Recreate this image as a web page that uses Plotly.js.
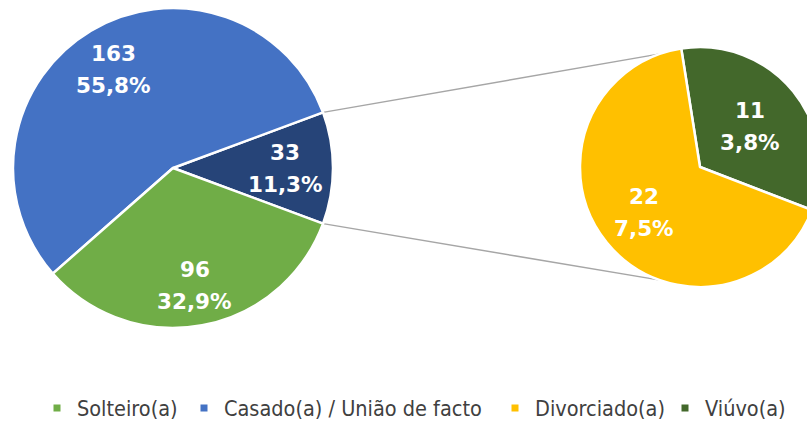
<!DOCTYPE html>
<html>
<head>
<meta charset="utf-8">
<script src="https://cdn.plot.ly/plotly-3.0.1.min.js"></script>
<style>
  html, body { margin: 0; padding: 0; overflow: hidden; background: #ffffff; }
  #chart { width: 840px; height: 422px; }
</style>
</head>
<body>
<div id="chart"></div>
<script>
// ---- data ----
const mainLabels = ['Solteiro(a)', 'Casado(a) / União de facto'];
const mainValues = [96, 163];
const secLabels = ['Viúvo(a)', 'Divorciado(a)'];
const secValues = [11, 22];
const otherLabel = 'Outros';
const legendLabels = ['Solteiro(a)', 'Casado(a) / União de facto', 'Divorciado(a)', 'Viúvo(a)'];

// ---- styles ----
const colors = {
  'Solteiro(a)': '#70AD47',
  'Casado(a) / União de facto': '#4472C4',
  'Outros': '#264478',
  'Divorciado(a)': '#FFC000',
  'Viúvo(a)': '#43682B'
};
const legendTextStart = [77, 224, 535, 705];   // px, left edge of legend texts
const W = 840, H = 422;
const mainC = {x: 173, y: 168, r: 160};
const secC = {x: 700, y: 167, r: 120};
const mainLabelR = [0.70, 0.72, 0.75];   // Outros, Casado, Solteiro
const secLabelR = [0.54, 0.60];          // Viúvo, Divorciado
const secRotation = -9;
const labelFont = {family: 'DejaVu Sans', size: 21.5, color: '#ffffff', weight: 'bold'};

const otherValue = secValues.reduce((a, b) => a + b, 0);
const total = mainValues.reduce((a, b) => a + b, 0) + otherValue;
const pct = v => (v / total * 100).toFixed(1).replace('.', ',') + '%';

// main pie: Outros first (centred at 3 o'clock), the rest counterclockwise
const pieMainLabels = [otherLabel, mainLabels[1], mainLabels[0]];
const pieMainValues = [otherValue, mainValues[1], mainValues[0]];
const halfOther = 360 * otherValue / total / 2;
const mainRotation = 90 - halfOther;

function domainOf(c) {
  return {
    x: [(c.x - c.r) / W, (c.x + c.r) / W],
    y: [1 - (c.y + c.r) / H, 1 - (c.y - c.r) / H]
  };
}

const traces = [
  {
    type: 'pie',
    labels: pieMainLabels,
    values: pieMainValues,
    textinfo: 'none',
    sort: false,
    direction: 'counterclockwise',
    rotation: mainRotation,
    marker: {colors: pieMainLabels.map(l => colors[l]), line: {color: '#ffffff', width: 2.5}},
    domain: domainOf(mainC),
    showlegend: false,
    hoverinfo: 'skip'
  },
  {
    type: 'pie',
    labels: secLabels,
    values: secValues,
    textinfo: 'none',
    sort: false,
    direction: 'clockwise',
    rotation: secRotation,
    marker: {colors: secLabels.map(l => colors[l]), line: {color: '#ffffff', width: 2.5}},
    domain: domainOf(secC),
    showlegend: false,
    hoverinfo: 'skip'
  }
];

// legend entries (one legend per entry so each sits where the reference has it)
const legendFont = {family: 'DejaVu Sans Condensed, Liberation Sans, sans-serif', size: 21.5, color: '#404040'};
const layoutLegends = {};
legendLabels.forEach((l, i) => {
  const key = i === 0 ? 'legend' : 'legend' + (i + 1);
  traces.push({
    type: 'scatter', mode: 'markers', x: [null], y: [null],
    name: l, legend: key,
    marker: {symbol: 'square', size: 7, color: colors[l]},
    showlegend: true, hoverinfo: 'skip'
  });
  layoutLegends[key] = {
    orientation: 'h', x: (legendTextStart[i] - 40) / W, xanchor: 'left',
    y: 1 - 408 / H, yanchor: 'middle',
    font: legendFont, bgcolor: 'rgba(0,0,0,0)', borderwidth: 0
  };
});

// data labels at slice mid-angles (angles clockwise from 12 o'clock)
const annotations = [];
function addLabel(v, midDeg, c, rf) {
  const t = midDeg * Math.PI / 180;
  const px = c.x + rf * c.r * Math.sin(t);
  const py = c.y - rf * c.r * Math.cos(t);
  [[String(v), 16], [pct(v), -16]].forEach(([txt, sh]) => {
    annotations.push({xref: 'paper', yref: 'paper', x: px / W, y: 1 - py / H,
      xanchor: 'center', yanchor: 'middle',
      text: txt, showarrow: false, font: labelFont, yshift: sh});
  });
}
function labelPie(values, rotation, dir, c, rfs) {
  const tot = values.reduce((a, b) => a + b, 0);
  let start = rotation;
  values.forEach((v, i) => {
    const span = 360 * v / tot;
    // plotly counterclockwise: first slice occupies [rotation, rotation+span]
    let mid;
    if (dir < 0 && i === 0) { mid = rotation + span / 2; }
    else { mid = start + dir * span / 2; start += dir * span; }
    addLabel(v, mid, c, rfs[i]);
  });
}
labelPie(pieMainValues, mainRotation, -1, mainC, mainLabelR);
labelPie(secValues, secRotation, 1, secC, secLabelR);

// connector lines
const a = halfOther * Math.PI / 180;
const p1 = {x: mainC.x + mainC.r * Math.cos(a), y: mainC.y - mainC.r * Math.sin(a)};
const p2 = {x: mainC.x + mainC.r * Math.cos(a), y: mainC.y + mainC.r * Math.sin(a)};
const b = 19.5 * Math.PI / 180;
const q1 = {x: secC.x - secC.r * Math.sin(b), y: secC.y - secC.r * Math.cos(b)};
const q2 = {x: secC.x - secC.r * Math.sin(b), y: secC.y + secC.r * Math.cos(b)};
function seg(p, q) {
  return {type: 'line', xref: 'paper', yref: 'paper',
    x0: p.x / W, y0: 1 - p.y / H, x1: q.x / W, y1: 1 - q.y / H,
    line: {color: '#A6A6A6', width: 1.5}, layer: 'below'};
}

const layout = Object.assign({
  width: W, height: H,
  margin: {l: 0, r: 0, t: 0, b: 0, autoexpand: false},
  paper_bgcolor: '#ffffff', plot_bgcolor: 'rgba(0,0,0,0)',
  showlegend: true,
  xaxis: {visible: false}, yaxis: {visible: false},
  shapes: [seg(p1, q1), seg(p2, q2)],
  annotations: annotations,
  hovermode: false
}, layoutLegends);

Plotly.newPlot('chart', traces, layout, {staticPlot: true, displayModeBar: false});
</script>
</body>
</html>
